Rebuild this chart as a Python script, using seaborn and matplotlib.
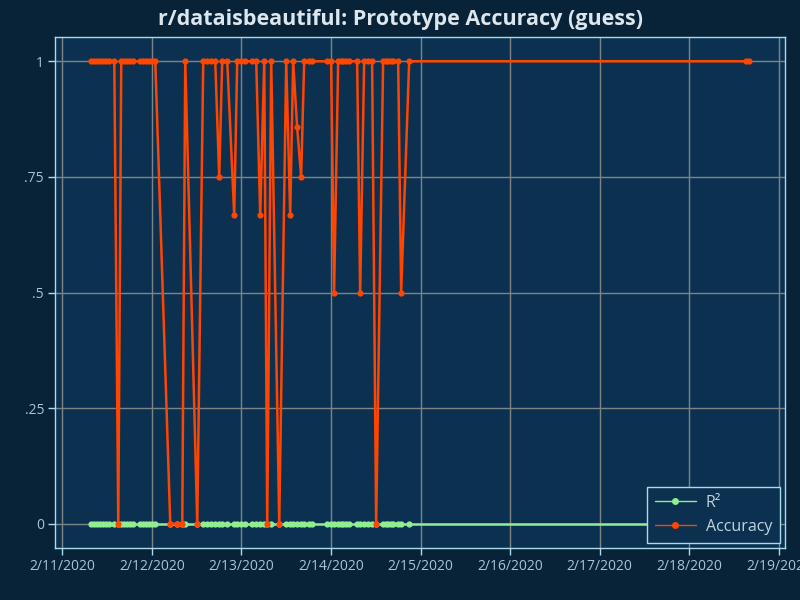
import pandas as pd
import matplotlib.pyplot as plt
import matplotlib.dates as mdates
import seaborn as sns

# Readings taken from the chart (timestamps in Feb 2020)
times = [
    "2020-02-11 07:46", "2020-02-11 08:34", "2020-02-11 09:23", "2020-02-11 10:11",
    "2020-02-11 10:59", "2020-02-11 11:47", "2020-02-11 12:35", "2020-02-11 13:56",
    "2020-02-11 15:00", "2020-02-11 15:48", "2020-02-11 16:37", "2020-02-11 17:25",
    "2020-02-11 18:13", "2020-02-11 19:01", "2020-02-11 20:54", "2020-02-11 21:42",
    "2020-02-11 22:30", "2020-02-11 23:18", "2020-02-12 00:07", "2020-02-12 00:55",
    "2020-02-12 04:56", "2020-02-12 06:48", "2020-02-12 08:09", "2020-02-12 08:57",
    "2020-02-12 12:10", "2020-02-12 13:46", "2020-02-12 14:50", "2020-02-12 15:55",
    "2020-02-12 16:59", "2020-02-12 18:03", "2020-02-12 18:51", "2020-02-12 20:12",
    "2020-02-12 22:04", "2020-02-12 22:52", "2020-02-12 23:57", "2020-02-13 01:01",
    "2020-02-13 02:54", "2020-02-13 03:58", "2020-02-13 05:02", "2020-02-13 06:07",
    "2020-02-13 06:55", "2020-02-13 07:59", "2020-02-13 10:08", "2020-02-13 12:00",
    "2020-02-13 13:04", "2020-02-13 13:52", "2020-02-13 14:56", "2020-02-13 16:00",
    "2020-02-13 16:49", "2020-02-13 18:09", "2020-02-13 18:57", "2020-02-13 22:58",
    "2020-02-14 00:02", "2020-02-14 00:50", "2020-02-14 01:55", "2020-02-14 02:43",
    "2020-02-14 03:15", "2020-02-14 04:03", "2020-02-14 04:51", "2020-02-14 07:00",
    "2020-02-14 07:49", "2020-02-14 08:53", "2020-02-14 09:57", "2020-02-14 11:01",
    "2020-02-14 12:06", "2020-02-14 13:58", "2020-02-14 14:46", "2020-02-14 15:19",
    "2020-02-14 16:07", "2020-02-14 16:39", "2020-02-14 18:00", "2020-02-14 18:48",
    "2020-02-14 20:57", "2020-02-18 15:13", "2020-02-18 16:01",
]
accuracy = [
    1, 1, 1, 1, 1, 1, 1, 1, 0, 1, 1, 1, 1, 1, 1, 1, 1, 1, 1, 1,
    0, 0, 0, 1, 0, 1, 1, 1, 1, 0.75, 1, 1, 0.667, 1, 1, 1, 1, 1, 0.667, 1,
    0, 1, 0, 1, 0.667, 1, 0.857, 0.75, 1, 1, 1, 1, 1, 0.5, 1, 1, 1, 1, 1, 1,
    0.5, 1, 1, 1, 0, 1, 1, 1, 1, 1, 1, 0.5, 1, 1, 1,
]
r_squared = [0] * len(times)

series_names = ["R²", "Accuracy"]
series_colors = ["#90ee90", "#ff4500"]

df = pd.concat([
    pd.DataFrame({"time": pd.to_datetime(times), "value": r_squared, "series": "R²"}),
    pd.DataFrame({"time": pd.to_datetime(times), "value": accuracy, "series": "Accuracy"}),
])

bg = "#082238"
panel = "#0c3150"
frame = "#a8dcec"
text_c = "#a9c4d4"

sns.set_theme(style="dark")
plt.rcParams.update({
    "figure.facecolor": bg,
    "axes.facecolor": panel,
    "axes.edgecolor": frame,
    "axes.grid": True,
    "grid.color": "#7d8488",
    "grid.linewidth": 1.0,
    "xtick.color": frame,
    "ytick.color": frame,
    "xtick.labelcolor": text_c,
    "ytick.labelcolor": text_c,
    "xtick.bottom": True,
    "ytick.left": True,
})
plt.rcParams["font.family"] = ["Open Sans", "DejaVu Sans"]

fig = plt.figure(figsize=(8, 6), dpi=100)
ax = fig.add_axes([0.069, 0.087, 0.912, 0.851])

sns.lineplot(
    data=df, x="time", y="value", hue="series",
    hue_order=series_names, palette=series_colors,
    marker="o", markersize=4.5, markeredgewidth=0,
    linewidth=1.8, ax=ax,
)

ax.set_xlim(pd.Timestamp("2020-02-11") - pd.Timedelta(hours=1.9),
            pd.Timestamp("2020-02-19") + pd.Timedelta(hours=1.6))
ax.set_ylim(-0.052, 1.052)
ax.set_yticks([0, 0.25, 0.5, 0.75, 1])
ax.set_yticklabels(["0", ".25", ".5", ".75", "1"])
ax.xaxis.set_major_locator(mdates.DayLocator())
ax.xaxis.set_major_formatter(mdates.DateFormatter("%-m/%-d/%Y"))
ax.tick_params(axis="both", length=5, width=1, labelsize=10, pad=3)
for s in ax.spines.values():
    s.set_color(frame)
    s.set_linewidth(1.0)
ax.set_xlabel("")
ax.set_ylabel("")

leg = ax.legend(loc="lower right", fontsize=11.5, frameon=True, fancybox=False,
                facecolor=panel, edgecolor=frame, framealpha=1,
                borderaxespad=0.3, handlelength=2.6, labelspacing=0.5,
                borderpad=0.5, handletextpad=0.6)
for line in leg.get_lines():
    line.set_linewidth(1.0)
    line.set_markersize(5)
for t in leg.get_texts():
    t.set_color("#c0d4e0")

fig.suptitle("r/dataisbeautiful: Prototype Accuracy (guess)", y=0.985,
             fontsize=15.5, fontweight="bold", color="#dce6ee")

plt.savefig("out.png", dpi=100, facecolor=bg)
